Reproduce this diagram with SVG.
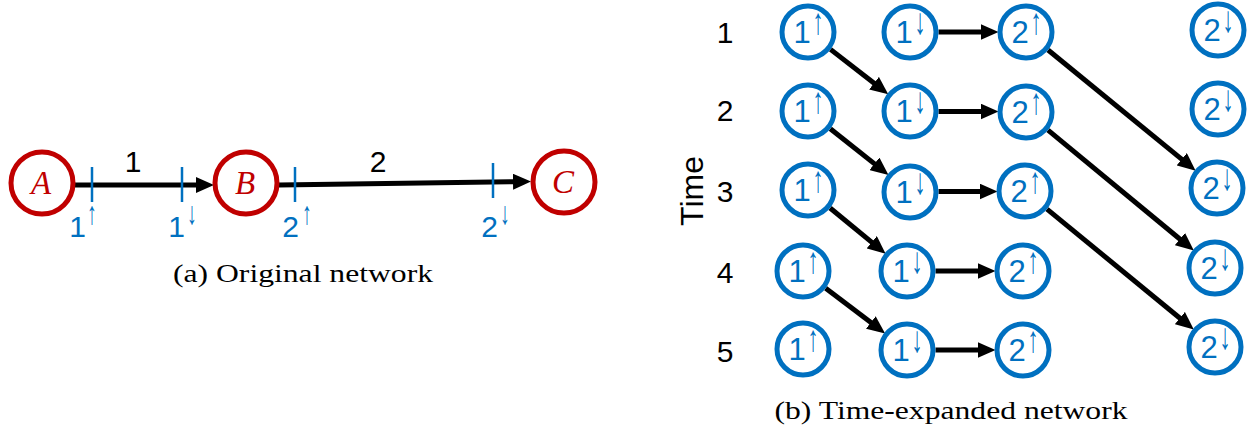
<svg xmlns="http://www.w3.org/2000/svg" width="1249" height="431" viewBox="0 0 1249 431">
<defs>
<marker id="ah" markerUnits="userSpaceOnUse" markerWidth="18" markerHeight="16" viewBox="0 0 18 16" refX="1" refY="8" orient="auto"><path d="M0,0 L18,8 L0,16 z" fill="#000"/></marker>
<style>
.red{fill:#fff;stroke:#C00000;stroke-width:5}
.blue{fill:#fff;stroke:#0070C0;stroke-width:5}
.lbl{font-family:"Liberation Serif",serif;font-style:italic;font-size:33px;fill:#C00000;text-anchor:middle}
.bt{font-family:"Liberation Sans",sans-serif;font-size:31px;fill:#0070C0;text-anchor:middle}
.arr{font-family:"Liberation Sans",sans-serif;font-size:37px;fill:#0070C0;text-anchor:middle}
.arrs{font-family:"Liberation Sans",sans-serif;font-size:32px;fill:#0070C0;text-anchor:middle}
.num{font-family:"Liberation Sans",sans-serif;font-size:30px;fill:#000;text-anchor:middle}
.cap{font-family:"Liberation Serif",serif;font-size:25px;fill:#000;text-anchor:middle}
.edge{stroke:#000;stroke-width:5;fill:none;marker-end:url(#ah)}
.tick{stroke:#0070C0;stroke-width:2.5}
</style>
</defs>
<rect width="1249" height="431" fill="#fff"/>

<g id="connectors">
<line class="edge" x1="75" y1="185" x2="197" y2="185"/>
<line class="edge" x1="279" y1="185" x2="514" y2="181.7"/>
<line class="tick" x1="92" y1="167" x2="92" y2="202"/>
<line class="tick" x1="182" y1="167" x2="182" y2="202"/>
<line class="tick" x1="295" y1="167" x2="295" y2="202"/>
<line class="tick" x1="493" y1="163" x2="493" y2="198"/>

<line class="edge" x1="830.5" y1="49.4" x2="874.8" y2="83.8"/>
<line class="edge" x1="830.3" y1="128.7" x2="875.2" y2="164.4"/>
<line class="edge" x1="830.1" y1="208" x2="872.5" y2="242.9"/>
<line class="edge" x1="825.7" y1="288.2" x2="871.6" y2="323.1"/>
<line class="edge" x1="938.5" y1="32" x2="981.5" y2="32"/>
<line class="edge" x1="938.5" y1="111.5" x2="981.5" y2="111.5"/>
<line class="edge" x1="938.5" y1="191.5" x2="980.5" y2="191.5"/>
<line class="edge" x1="935.5" y1="271" x2="978.5" y2="271"/>
<line class="edge" x1="935.5" y1="350" x2="978.5" y2="350"/>
<line class="edge" x1="1048.1" y1="50" x2="1182.5" y2="159.9"/>
<line class="edge" x1="1048" y1="130.1" x2="1180.7" y2="239.7"/>
<line class="edge" x1="1047" y1="209.1" x2="1180.6" y2="318.7"/>
</g>

<g id="nodeA"><circle class="red" cx="42" cy="183" r="31"/><text class="lbl" x="41" y="194">A</text></g>
<g id="nodeB"><circle class="red" cx="246" cy="183" r="31"/><text class="lbl" x="245" y="194">B</text></g>
<g id="nodeC"><circle class="red" cx="564" cy="182" r="31"/><text class="lbl" x="563" y="193">C</text></g>

<g id="edgeLabels">
<text class="num" x="133" y="172">1</text>
<text class="num" x="378" y="172">2</text>
<text class="bt" x="77.5" y="237" style="font-size:30px">1</text><text class="arrs" transform="translate(92,224) scale(0.6,1)">↑</text>
<text class="bt" x="176.5" y="237" style="font-size:30px">1</text><text class="arrs" transform="translate(192,224) scale(0.6,1)">↓</text>
<text class="bt" x="290.5" y="237" style="font-size:30px">2</text><text class="arrs" transform="translate(307,224) scale(0.6,1)">↑</text>
<text class="bt" x="489.5" y="237" style="font-size:30px">2</text><text class="arrs" transform="translate(505,224) scale(0.6,1)">↓</text>
</g>
<text class="cap" x="303" y="282" textLength="260" lengthAdjust="spacingAndGlyphs">(a) Original network</text>

<g id="axis">
<text class="num" style="font-size:32px" transform="translate(703,191) rotate(-90)">Time</text>
<text class="num" x="725" y="43">1</text>
<text class="num" x="725" y="121">2</text>
<text class="num" x="725" y="202">3</text>
<text class="num" x="725" y="283">4</text>
<text class="num" x="725" y="362">5</text>
</g>

<g id="r1_1u"><circle class="blue" cx="808" cy="32" r="26"/><text class="bt" x="802" y="43">1</text><text class="arr" transform="translate(818,34) scale(0.6,1)">↑</text></g>
<g id="r1_1d"><circle class="blue" cx="910" cy="32" r="26"/><text class="bt" x="904" y="43">1</text><text class="arr" transform="translate(920,34) scale(0.6,1)">↓</text></g>
<g id="r1_2u"><circle class="blue" cx="1026" cy="32" r="26"/><text class="bt" x="1020" y="43">2</text><text class="arr" transform="translate(1036,34) scale(0.6,1)">↑</text></g>
<g id="r1_2d"><circle class="blue" cx="1218" cy="30" r="26"/><text class="bt" x="1212" y="41">2</text><text class="arr" transform="translate(1228,32) scale(0.6,1)">↓</text></g>

<g id="r2_1u"><circle class="blue" cx="808" cy="111" r="26"/><text class="bt" x="802" y="122">1</text><text class="arr" transform="translate(818,113) scale(0.6,1)">↑</text></g>
<g id="r2_1d"><circle class="blue" cx="910" cy="111" r="26"/><text class="bt" x="904" y="122">1</text><text class="arr" transform="translate(920,113) scale(0.6,1)">↓</text></g>
<g id="r2_2u"><circle class="blue" cx="1026" cy="112" r="26"/><text class="bt" x="1020" y="123">2</text><text class="arr" transform="translate(1036,114) scale(0.6,1)">↑</text></g>
<g id="r2_2d"><circle class="blue" cx="1218" cy="109" r="26"/><text class="bt" x="1212" y="120">2</text><text class="arr" transform="translate(1228,111) scale(0.6,1)">↓</text></g>

<g id="r3_1u"><circle class="blue" cx="808" cy="190" r="26"/><text class="bt" x="802" y="201">1</text><text class="arr" transform="translate(818,192) scale(0.6,1)">↑</text></g>
<g id="r3_1d"><circle class="blue" cx="910" cy="192" r="26"/><text class="bt" x="904" y="203">1</text><text class="arr" transform="translate(920,194) scale(0.6,1)">↓</text></g>
<g id="r3_2u"><circle class="blue" cx="1025" cy="191" r="26"/><text class="bt" x="1019" y="202">2</text><text class="arr" transform="translate(1035,193) scale(0.6,1)">↑</text></g>
<g id="r3_2d"><circle class="blue" cx="1217" cy="188" r="26"/><text class="bt" x="1211" y="199">2</text><text class="arr" transform="translate(1227,190) scale(0.6,1)">↓</text></g>

<g id="r4_1u"><circle class="blue" cx="803" cy="271" r="26"/><text class="bt" x="797" y="282">1</text><text class="arr" transform="translate(813,273) scale(0.6,1)">↑</text></g>
<g id="r4_1d"><circle class="blue" cx="907" cy="271" r="26"/><text class="bt" x="901" y="282">1</text><text class="arr" transform="translate(917,273) scale(0.6,1)">↓</text></g>
<g id="r4_2u"><circle class="blue" cx="1023" cy="271" r="26"/><text class="bt" x="1017" y="282">2</text><text class="arr" transform="translate(1033,273) scale(0.6,1)">↑</text></g>
<g id="r4_2d"><circle class="blue" cx="1215" cy="268" r="26"/><text class="bt" x="1209" y="279">2</text><text class="arr" transform="translate(1225,270) scale(0.6,1)">↓</text></g>

<g id="r5_1u"><circle class="blue" cx="803" cy="349" r="26"/><text class="bt" x="797" y="360">1</text><text class="arr" transform="translate(813,351) scale(0.6,1)">↑</text></g>
<g id="r5_1d"><circle class="blue" cx="907" cy="350" r="26"/><text class="bt" x="901" y="361">1</text><text class="arr" transform="translate(917,352) scale(0.6,1)">↓</text></g>
<g id="r5_2u"><circle class="blue" cx="1023" cy="350" r="26"/><text class="bt" x="1017" y="361">2</text><text class="arr" transform="translate(1033,352) scale(0.6,1)">↑</text></g>
<g id="r5_2d"><circle class="blue" cx="1215" cy="347" r="26"/><text class="bt" x="1209" y="358">2</text><text class="arr" transform="translate(1225,349) scale(0.6,1)">↓</text></g>

<text class="cap" x="951" y="419" textLength="353" lengthAdjust="spacingAndGlyphs">(b) Time-expanded network</text>
</svg>
